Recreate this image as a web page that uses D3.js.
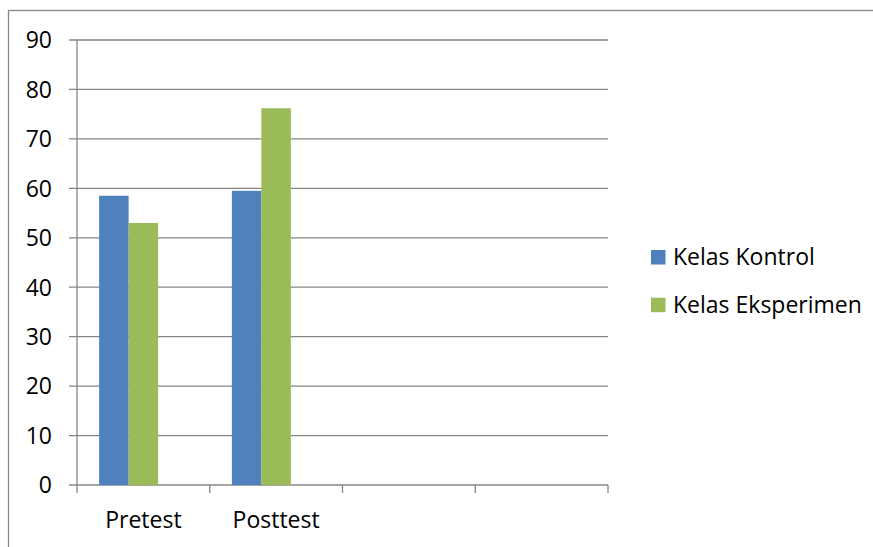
<!DOCTYPE html>
<html>
<head>
<meta charset="utf-8">
<script src="https://cdn.jsdelivr.net/npm/d3@7"></script>
<style>
  body { margin: 0; background: #fff; }
  text { font-family: "Open Sans", sans-serif; fill: #000; }
</style>
</head>
<body>
<svg id="chart" width="873" height="547"></svg>
<script>
// chart data
const categories = ['Pretest', 'Posttest', 'c3', 'c4'];
const categoryLabels = ['Pretest', 'Posttest', '', ''];
const seriesNames = ['Kelas Kontrol', 'Kelas Eksperimen'];
const seriesSlots = ['Kelas Kontrol', 'Kelas Eksperimen', 'empty']; // Excel kept a 3rd empty series slot
const kontrol = [58.5, 59.5, null, null];
const eksperimen = [53, 76.2, null, null];
const yTicks = [0, 10, 20, 30, 40, 50, 60, 70, 80, 90];
const colors = ['#4F81BD', '#9BBB59'];

const svg = d3.select('#chart');
const plotLeft = 77, plotRight = 608, plotTop = 40, plotBottom = 485;
const gridColor = '#868686';

// outer frame (right and bottom fall outside the picture)
svg.append('rect')
  .attr('x', 8.5).attr('y', 10.5)
  .attr('width', 900).attr('height', 600)
  .attr('fill', 'none')
  .attr('stroke', gridColor)
  .attr('stroke-width', 1.3);

const x = d3.scaleBand().domain(categories).range([plotLeft, plotRight]).padding(0);
const xInner = d3.scaleBand().domain(seriesSlots)
  .range([0, x.bandwidth()])
  .paddingInner(0).paddingOuter(0.75);
const y = d3.scaleLinear().domain([0, 90]).range([plotBottom, plotTop]);

// horizontal gridlines + y tick marks
svg.append('g').selectAll('line').data(yTicks)
  .enter().append('line')
    .attr('x1', plotLeft - 8).attr('x2', plotRight)
    .attr('y1', d => y(d)).attr('y2', d => y(d))
    .attr('stroke', gridColor).attr('stroke-width', 1.3);

// y labels
svg.append('g').selectAll('text').data(yTicks)
  .enter().append('text')
    .attr('x', 52).attr('y', d => y(d))
    .attr('dy', '0.36em')
    .attr('text-anchor', 'end')
    .style('font-size', '23px')
    .text(d => d);

// y axis line
svg.append('line')
  .attr('x1', plotLeft).attr('x2', plotLeft)
  .attr('y1', plotTop).attr('y2', plotBottom)
  .attr('stroke', gridColor).attr('stroke-width', 1.3);

// x tick marks at category boundaries
const xBounds = categories.map(c => x(c)).concat([plotRight]);
svg.append('g').selectAll('line').data(xBounds)
  .enter().append('line')
    .attr('x1', d => d).attr('x2', d => d)
    .attr('y1', plotBottom).attr('y2', plotBottom + 8)
    .attr('stroke', gridColor).attr('stroke-width', 1.3);

// bars
const series = [kontrol, eksperimen];
series.forEach((vals, si) => {
  svg.append('g').selectAll('rect')
    .data(vals.map((v, i) => ({ cat: categories[i], v })).filter(d => d.v != null))
    .enter().append('rect')
      .attr('x', d => x(d.cat) + xInner(seriesNames[si]))
      .attr('width', xInner.bandwidth())
      .attr('y', d => y(d.v))
      .attr('height', d => y(0) - y(d.v))
      .attr('fill', colors[si]);
});

// x labels
svg.append('g').selectAll('text').data(categories)
  .enter().append('text')
    .attr('x', d => x(d) + x.bandwidth() / 2)
    .attr('y', 528)
    .attr('text-anchor', 'middle')
    .style('font-size', '23px')
    .text((d, i) => categoryLabels[i]);

// legend
const legend = svg.append('g').selectAll('g').data(seriesNames)
  .enter().append('g')
    .attr('transform', (d, i) => `translate(651, ${250 + i * 47.7})`);
legend.append('rect')
  .attr('width', 14.5).attr('height', 14.5)
  .attr('fill', (d, i) => colors[i]);
legend.append('text')
  .attr('x', 22).attr('y', 15)
  .style('font-size', '23px')
  .text(d => d);
</script>
</body>
</html>
